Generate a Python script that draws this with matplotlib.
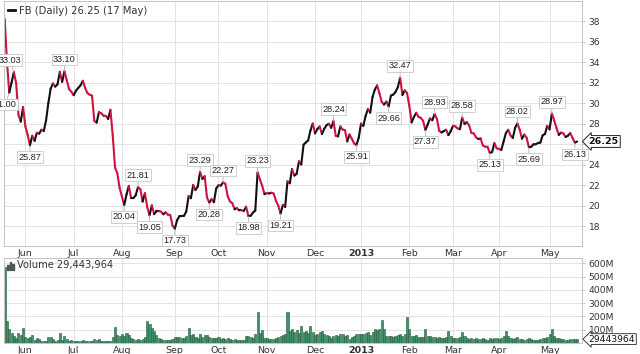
import numpy as np
import pandas as pd
import matplotlib
matplotlib.use('Agg')
import matplotlib.pyplot as plt
from matplotlib.collections import LineCollection
from matplotlib.lines import Line2D
from matplotlib.patches import Rectangle

# trading days May 18 2012 .. May 17 2013 (market closures removed)
closures = ['2012-05-28', '2012-07-04', '2012-09-03', '2012-10-29', '2012-10-30',
            '2012-11-22', '2012-12-25', '2013-01-01', '2013-01-21', '2013-02-18',
            '2013-03-29']

# daily closes, by month
close_may12 = [38.23, 34.03, 31.00, 32.00, 33.03, 31.91, 28.84, 28.19, 29.60]
close_jun12 = [27.72, 26.90, 25.87, 26.81, 26.31, 27.10, 27.01, 27.40, 27.27, 28.29, 30.01,
               31.41, 31.91, 31.60, 31.84, 33.05, 32.06, 33.10, 32.23, 31.36, 31.10]
close_jul12 = [30.77, 31.20, 31.47, 31.73, 32.17, 31.47, 30.97, 30.81, 30.72, 28.25, 28.09,
               29.11, 29.00, 28.76, 28.75, 28.45, 29.34, 26.85, 23.71, 23.15, 21.71]
close_aug12 = [20.88, 20.04, 21.09, 21.92, 20.72, 20.72, 21.01, 21.81, 21.60, 20.38, 21.20,
               19.87, 19.05, 20.01, 19.16, 19.44, 19.44, 19.41, 19.15, 19.34, 19.10, 19.09, 18.06]
close_sep12 = [17.73, 18.58, 18.96, 18.98, 19.00, 19.43, 20.93, 20.71, 22.00, 21.52, 21.87,
               23.29, 22.59, 22.86, 20.79, 20.28, 20.62, 20.32, 21.66]
close_oct12 = [21.99, 21.94, 22.27, 22.11, 20.91, 20.40, 20.23, 19.64, 19.75, 19.52, 19.52,
               19.48, 19.88, 18.98, 19.00, 19.32, 19.50, 23.23, 22.56, 21.94, 21.11]
close_nov12 = [21.21, 21.18, 21.25, 21.17, 20.47, 19.99, 19.21, 20.07, 19.86, 22.36, 22.17,
               23.56, 22.92, 23.10, 24.32, 24.00, 25.94, 26.15, 26.36, 27.32, 28.00]
close_dec12 = [27.04, 27.46, 27.71, 26.97, 27.49, 27.84, 27.98, 27.58, 28.24, 26.81, 26.75,
               27.71, 27.41, 27.36, 26.26, 26.93, 26.51, 26.05, 25.91, 26.62]
close_jan13 = [28.00, 27.77, 28.76, 29.42, 29.06, 30.59, 31.30, 31.72, 30.95, 30.10, 29.85,
               30.14, 29.66, 30.73, 30.82, 31.08, 31.54, 32.47, 30.79, 31.24, 30.98]
close_feb13 = [29.73, 28.11, 28.64, 29.05, 28.65, 28.55, 28.26, 27.37, 27.91, 28.50, 28.32,
               28.93, 28.46, 27.28, 27.13, 27.27, 27.39, 26.87, 27.25]
close_mar13 = [27.78, 27.72, 27.52, 27.45, 28.58, 27.96, 28.14, 27.83, 27.08, 27.04, 26.65,
               26.49, 26.55, 25.86, 25.74, 25.73, 25.13, 25.21, 26.09, 25.58]
close_apr13 = [25.53, 25.42, 26.25, 27.07, 27.39, 26.85, 26.59, 27.57, 28.02, 27.40, 26.52,
               26.92, 26.63, 25.69, 25.73, 25.97, 25.98, 26.11, 26.14, 26.85, 26.98, 27.77]
close_may13 = [27.43, 28.97, 28.31, 27.57, 26.89, 27.12, 27.04, 26.68, 26.82, 27.07, 26.60,
               26.13, 26.25]

# daily volume in millions, by month
vol_may12 = [573, 168, 102, 74, 50, 37, 78, 57, 112]
vol_jun12 = [42, 36, 42, 62, 26, 38, 28, 16, 17, 17, 44, 43, 31, 16, 22, 75, 24, 51, 29, 18, 20]
vol_jul12 = [15, 18, 14, 15, 22, 18, 15, 13, 14, 32, 26, 28, 17, 16, 14, 13, 18, 45, 123, 60, 55]
vol_aug12 = [70, 56, 72, 58, 37, 30, 26, 30, 22, 28, 45, 165, 145, 112, 90, 62, 40, 30, 25, 22,
             20, 20, 32]
vol_sep12 = [45, 42, 48, 35, 35, 55, 110, 60, 65, 45, 40, 65, 45, 62, 60, 45, 35, 38, 40]
vol_oct12 = [45, 30, 40, 28, 40, 30, 25, 30, 22, 25, 22, 20, 50, 52, 48, 40, 70, 230, 75, 95, 40]
vol_nov12 = [35, 30, 28, 30, 35, 45, 55, 60, 70, 230, 90, 105, 80, 100, 75, 125, 80, 87, 75,
             125, 85]
vol_dec12 = [60, 65, 85, 90, 65, 60, 50, 40, 55, 60, 55, 70, 65, 50, 60, 30, 45, 55, 70, 65]
vol_jan13 = [70, 65, 72, 85, 60, 80, 105, 100, 105, 175, 105, 50, 55, 50, 45, 55, 60, 70, 55,
             65, 195]
vol_feb13 = [105, 55, 50, 60, 45, 48, 45, 105, 55, 50, 45, 48, 40, 45, 38, 35, 42, 87, 50]
vol_mar13 = [40, 35, 38, 45, 82, 50, 35, 30, 35, 30, 38, 28, 30, 35, 30, 25, 38, 30, 40, 35]
vol_apr13 = [30, 35, 55, 90, 55, 35, 30, 40, 45, 30, 28, 25, 30, 35, 28, 25, 22, 25, 28, 40,
             35, 45]
vol_may13 = [70, 105, 55, 40, 38, 30, 28, 25, 25, 30, 28, 32, 29.44]

# labelled highs / lows
label_dates = ['2012-05-24', '2012-05-22', '2012-06-05', '2012-06-26', '2012-08-02',
               '2012-08-10', '2012-08-17', '2012-09-04', '2012-09-19', '2012-09-25',
               '2012-10-03', '2012-10-18', '2012-10-24', '2012-11-09', '2012-12-13',
               '2012-12-28', '2013-01-28', '2013-01-18', '2013-02-12', '2013-02-19',
               '2013-03-07', '2013-03-25', '2013-04-11', '2013-04-18', '2013-05-02',
               '2013-05-16']
label_up = [True, False, False, True, False, True, False, False, True, False, True, False,
            True, False, True, False, True, False, False, True, True, False, True, False,
            True, False]

days = pd.bdate_range('2012-05-18', '2013-05-17')
days = days[~days.isin(pd.to_datetime(closures))]

close = np.array(close_may12 + close_jun12 + close_jul12 + close_aug12 + close_sep12 +
                 close_oct12 + close_nov12 + close_dec12 + close_jan13 + close_feb13 +
                 close_mar13 + close_apr13 + close_may13)
vol = np.array(vol_may12 + vol_jun12 + vol_jul12 + vol_aug12 + vol_sep12 + vol_oct12 +
               vol_nov12 + vol_dec12 + vol_jan13 + vol_feb13 + vol_mar13 + vol_apr13 +
               vol_may13, dtype=float)
x = np.arange(len(days))

# first trading day of each month
mstart = [i for i in range(1, len(days)) if days[i].month != days[i - 1].month]
mlabels = ['2013' if days[i].month == 1 else days[i].strftime('%b') for i in mstart]

red = '#cf1340'
grid_c = '#e3e3e3'
spine_c = '#c4c4c4'
txt_c = '#333333'

fig = plt.figure(figsize=(6.4, 3.54), dpi=100)
ax1 = fig.add_axes([0.0055, 0.305, 0.9035, 0.692])
ax2 = fig.add_axes([0.0055, 0.031, 0.9035, 0.240])

for ax in (ax1, ax2):
    ax.set_xlim(-0.5, 251)
    ax.set_xticks(mstart)
    ax.set_xticklabels(mlabels)
    for lab in ax.get_xticklabels():
        if lab.get_text() == '2013':
            lab.set_fontweight('bold')
    ax.yaxis.tick_right()
    ax.tick_params(axis='x', length=0, pad=2, labelsize=6.8, colors=txt_c)
    ax.tick_params(axis='y', length=2, pad=3, labelsize=6.6, colors=txt_c, color=spine_c)
    ax.grid(True, color=grid_c, lw=0.7)
    ax.set_axisbelow(True)
    for s in ax.spines.values():
        s.set_color(spine_c)
        s.set_linewidth(0.7)

# price line, red on down days, black on up days
pts = np.column_stack([x, close])
segs = np.stack([pts[:-1], pts[1:]], axis=1)
cols = [red if close[i + 1] < close[i] else '#111111' for i in range(len(close) - 1)]
ax1.add_collection(LineCollection(segs, colors=cols, linewidths=1.5, capstyle='round',
                                  joinstyle='round'))
ax1.set_ylim(16.05, 39.95)
ax1.set_yticks(np.arange(18, 39, 2))

for d, up in zip(label_dates, label_up):
    i = days.get_loc(pd.Timestamp(d))
    dx = -3 if i < 5 else 0
    ax1.annotate(f'{close[i]:.2f}', xy=(i, close[i]), xytext=(dx, 8.5 if up else -8.5),
                 textcoords='offset points', ha='center', va='center', fontsize=6.6,
                 family='Liberation Sans', color='#222222',
                 bbox=dict(boxstyle='square,pad=0.15', fc='white', ec='#c8c8c8', lw=0.6),
                 arrowprops=dict(arrowstyle='-', color='#b0b0b0', lw=0.6,
                                 shrinkA=0, shrinkB=0))

ax1.annotate(f'{close[-1]:.2f}', xy=(1, close[-1]), xycoords=('axes fraction', 'data'),
             xytext=(5, 0), textcoords='offset points', ha='left', va='center',
             fontsize=6.8, fontweight='bold', color='#111111', zorder=5,
             bbox=dict(boxstyle='larrow,pad=0.15', fc='white', ec='#222222', lw=0.7))

ax1.legend([Line2D([], [], color='#111111', lw=2)], ['FB (Daily) 26.25 (17 May)'],
           loc='upper left', frameon=False, handlelength=0.7, handletextpad=0.4,
           borderaxespad=0.15, borderpad=0.3, fontsize=7.2, labelcolor=txt_c)

# volume
ax2.bar(x, vol, width=0.9, color='#3f8f68', edgecolor='#1f5e3f', linewidth=0.4)
ax2.set_ylim(0, 640)
ax2.set_yticks(np.arange(100, 601, 100))
ax2.set_yticklabels([f'{v}M' for v in range(100, 601, 100)])

for k, h in enumerate([0.45, 0.75, 0.6]):
    ax2.add_patch(Rectangle((0.006 + k * 0.0045, 0.86), 0.0033, 0.09 * h / 0.75,
                            transform=ax2.transAxes, color='#555555', clip_on=False))
ax2.text(0.024, 0.915, 'Volume 29,443,964', transform=ax2.transAxes, ha='left', va='center',
         fontsize=7.1, color=txt_c)
ax2.annotate('29443964', xy=(1, vol[-1]), xycoords=('axes fraction', 'data'),
             xytext=(5, 0), textcoords='offset points', ha='left', va='center',
             fontsize=6.6, color='#111111', zorder=5,
             bbox=dict(boxstyle='larrow,pad=0.1', fc='white', ec='#222222', lw=0.6))

fig.savefig('out.png', dpi=100)
